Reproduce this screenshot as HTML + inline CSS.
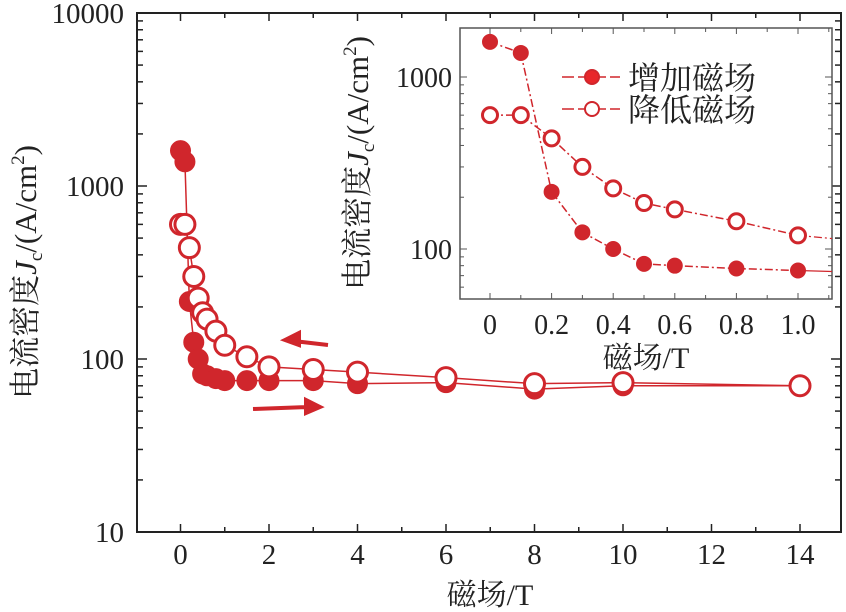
<!DOCTYPE html>
<html><head><meta charset="utf-8"><style>
html,body{margin:0;padding:0;background:#fff;}
svg{display:block;font-family:"Liberation Serif","Noto Serif CJK SC",serif;}
</style></head><body>
<svg id="chart" width="846" height="612" viewBox="0 0 846 612"></svg>
<script>
const xMain = [0,0.1,0.2,0.3,0.4,0.5,0.6,0.8,1,1.5,2,3,4,6,8,10,14];
const incMain = [1600,1380,215,125,100,82,80,77,75,75,75,75,72,73,67,70,70];
const decMain = [600,600,440,300,225,185,170,145,120,103,90,87,84,78,72,73,70];
const xInset = [0,0.1,0.2,0.3,0.4,0.5,0.6,0.8,1.0];
const incInset = [1600,1380,215,125,100,82,80,77,75];
const decInset = [600,600,440,300,225,185,170,145,120];
const mainXTicks = [0,2,4,6,8,10,12,14];
const mainYTicks = [10,100,1000,10000];
const insetXTicks = [0,0.2,0.4,0.6,0.8,1.0];
const insetXLabels = ["0","0.2","0.4","0.6","0.8","1.0"];
const insetYTicks = [100,1000];

const NS="http://www.w3.org/2000/svg";
const svg=document.getElementById('chart');
const RED="#d0262c", DARK="#222";
function mk(tag,attrs,parent){const e=document.createElementNS(NS,tag);for(const k in attrs)e.setAttribute(k,attrs[k]);(parent||svg).appendChild(e);return e;}

const M={l:137,r:841,t:13,b:532,x0:180.5,xs:44.25,yDec:173};
const mx=v=>M.x0+v*M.xs;
const my=v=>M.b-(Math.log10(v)-1)*M.yDec;
const I={l:460,r:832,t:28,b:299,x0:490,xs:308,y100:249,yDec:172};
const ix=v=>I.x0+v*I.xs;
const iy=v=>I.y100-(Math.log10(v)-2)*I.yDec;

let g=mk('g',{});


let fr=mk('rect',{x:M.l,y:M.t,width:M.r-M.l,height:M.b-M.t,fill:'none',stroke:DARK,'stroke-width':2},g);


for(let v=0;v<=15;v++){const X=mx(v);if(X>M.r)break;const len=v%2===0?8:5;
 mk('line',{x1:X,y1:M.b,x2:X,y2:M.b-len,stroke:DARK,'stroke-width':1.5},g);
 mk('line',{x1:X,y1:M.t,x2:X,y2:M.t+len,stroke:DARK,'stroke-width':1.5},g);}
mainXTicks.forEach(v=>{const t=mk('text',{x:mx(v),y:564,'font-size':29,'text-anchor':'middle',fill:DARK},g);t.textContent=v;
 });
for(let d=1;d<4;d++)for(let m=1;m<10;m++){const v=m*Math.pow(10,d);const Y=my(v);const len=m===1?10:6;
 mk('line',{x1:M.l,y1:Y,x2:M.l+len,y2:Y,stroke:DARK,'stroke-width':1.5},g);
 mk('line',{x1:M.r,y1:Y,x2:M.r-len,y2:Y,stroke:DARK,'stroke-width':1.5},g);}
mainYTicks.forEach(v=>{const t=mk('text',{x:124,y:my(v)+10,'font-size':29,'text-anchor':'end',fill:DARK},g);t.textContent=v;
 });
let xt=mk('text',{x:490,y:605,'font-size':30,'text-anchor':'middle',fill:DARK},g);xt.textContent='磁场/T';

let yt=mk('text',{transform:'translate(36,272) rotate(-90)','font-size':31,'text-anchor':'middle',fill:DARK},g);
yt.innerHTML='电流密度<tspan font-style="italic">J</tspan><tspan font-size="19" dy="6">c</tspan><tspan dy="-6">/(A/cm</tspan><tspan font-size="19" dy="-12">2</tspan><tspan dy="12">)</tspan>';


function series(xs,ys,fx,fy,filled,r,name,dash){
 const pts=xs.map((v,i)=>fx(v)+','+fy(ys[i])).join(' ');
 const pl=mk('polyline',{points:pts,fill:'none',stroke:RED,'stroke-width':1.5,'stroke-dasharray':dash||'none'});
 
 xs.forEach((v,i)=>{const c=mk('circle',{cx:fx(v),cy:fy(ys[i]),r:r,fill:filled?RED:'#fff',stroke:RED,'stroke-width':filled?1:3});
  });
}
series(xMain,incMain,mx,my,true,10,'increasing-field-main');
series(xMain,decMain,mx,my,false,10,'decreasing-field-main');
let a1=mk('path',{d:'M328,345 L285,340 M285,340 l14,-7 l0,12 z',stroke:RED,'stroke-width':4,fill:RED});

let a2=mk('path',{d:'M253,409 L308,407 M320,407 l-14,-7 l0,13 z',stroke:RED,'stroke-width':4,fill:RED});


let gi=mk('g',{});

let ir=mk('rect',{x:I.l,y:I.t,width:I.r-I.l,height:I.b-I.t,fill:'#fff',stroke:'#555','stroke-width':1.5},gi);

for(let k=0;k<=11;k++){const v=k*0.1;const X=ix(v);const len=k%2===0?6:4;
 mk('line',{x1:X,y1:I.b,x2:X,y2:I.b-len,stroke:'#555','stroke-width':1},gi);
 mk('line',{x1:X,y1:I.t,x2:X,y2:I.t+len,stroke:'#555','stroke-width':1},gi);}
insetXTicks.forEach((v,i)=>{const t=mk('text',{x:ix(v),y:334,'font-size':28,'text-anchor':'middle',fill:DARK},gi);t.textContent=insetXLabels[i];
 });
for(let d=1;d<4;d++)for(let m=1;m<10;m++){const v=m*Math.pow(10,d);const Y=iy(v);if(Y<I.t||Y>I.b)continue;const len=m===1?7:4;
 mk('line',{x1:I.l,y1:Y,x2:I.l+len,y2:Y,stroke:'#555','stroke-width':1},gi);
 mk('line',{x1:I.r,y1:Y,x2:I.r-len,y2:Y,stroke:'#555','stroke-width':1},gi);}
insetYTicks.forEach(v=>{const t=mk('text',{x:452,y:iy(v)+10,'font-size':28,'text-anchor':'end',fill:DARK},gi);t.textContent=v;
 });
let ixt=mk('text',{x:646,y:368,'font-size':30,'text-anchor':'middle',fill:DARK},gi);ixt.textContent='磁场/T';

let iyt=mk('text',{transform:'translate(368,163) rotate(-90)','font-size':31,'text-anchor':'middle',fill:DARK},gi);
iyt.innerHTML='电流密度<tspan font-style="italic">J</tspan><tspan font-size="19" dy="6">c</tspan><tspan dy="-6">/(A/cm</tspan><tspan font-size="19" dy="-12">2</tspan><tspan dy="12">)</tspan>';

mk('line',{x1:ix(1.0),y1:iy(120),x2:I.r,y2:iy(115),stroke:RED,'stroke-width':1.2,'stroke-dasharray':'8,3,2,3'});
mk('line',{x1:ix(1.0),y1:iy(75),x2:I.r,y2:iy(74),stroke:RED,'stroke-width':1.2});
series(xInset,decInset,ix,iy,false,7.5,'decreasing-field-inset','8,3,2,3');
series(xInset,incInset,ix,iy,true,7.5,'increasing-field-inset','8,3,2,3');
function legend(y,filled,label,name){
 const lg=mk('g',{});
 mk('line',{x1:562,y1:y,x2:620,y2:y,stroke:RED,'stroke-width':1.5,'stroke-dasharray':'12,4'},lg);
 mk('circle',{cx:592,cy:y,r:7,fill:filled?'#e8262a':'#fff',stroke:RED,'stroke-width':2},lg);
 const t=mk('text',{x:628,y:y+12,'font-size':32,fill:DARK},lg);t.textContent=label;
}
legend(77,true,'增加磁场','legend-increasing-field');
legend(109,false,'降低磁场','legend-decreasing-field');
</script>
</body></html>
